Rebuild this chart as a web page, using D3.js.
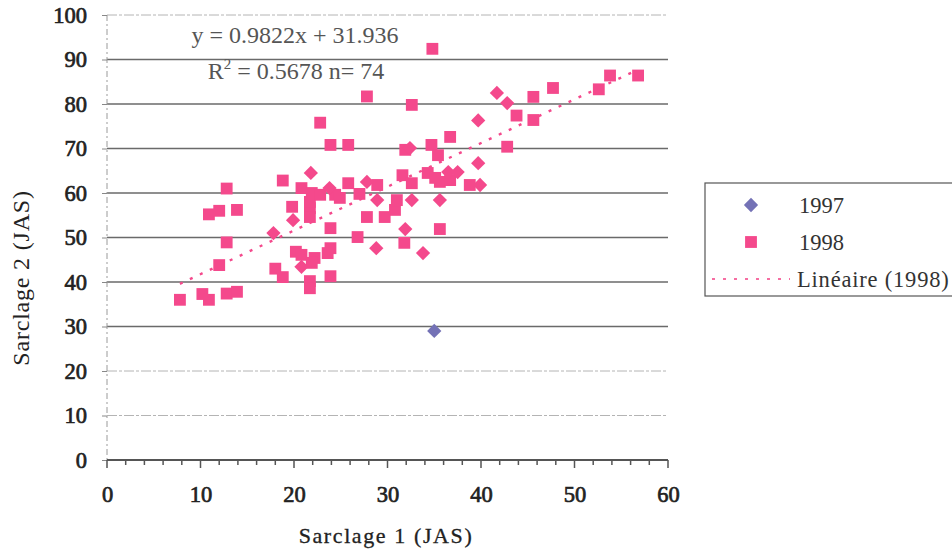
<!DOCTYPE html>
<html>
<head>
<meta charset="utf-8">
<script src="https://cdn.jsdelivr.net/npm/d3@7"></script>
<style>
  html, body { margin: 0; padding: 0; background: #fff; }
  svg { display: block; }
</style>
</head>
<body>
<svg id="chart" width="952" height="553"></svg>
<script>
// Sarclage 1 vs Sarclage 2 (jours après semis)
const xTicks = [0, 10, 20, 30, 40, 50, 60];
const yTicks = [0, 10, 20, 30, 40, 50, 60, 70, 80, 90, 100];

// 1998 : [sarclage 1, sarclage 2]
const s1998 = [
  [7.8, 36.0], [10.2, 37.3], [10.9, 36.0], [12.8, 37.4], [13.9, 37.8],
  [10.9, 55.2], [12.0, 56.0], [13.9, 56.2], [12.8, 61.0], [12.8, 48.9], [12.0, 43.8],
  [18.0, 43.0], [18.8, 41.1], [18.8, 62.8], [19.8, 56.9], [20.8, 61.1], [20.2, 46.8],
  [20.8, 46.1], [22.2, 45.4], [21.9, 44.3], [21.7, 40.2], [21.7, 38.6], [21.7, 56.6],
  [21.7, 54.6], [21.9, 60.0], [21.7, 58.0], [22.8, 59.6], [22.8, 75.8], [23.9, 70.8],
  [23.6, 46.5], [23.9, 47.6], [23.9, 41.3], [23.9, 52.1], [24.4, 59.6], [24.9, 58.9],
  [25.8, 70.8], [25.8, 62.2], [27.0, 59.8], [26.8, 50.1], [27.8, 81.7], [27.8, 54.6],
  [28.9, 61.8], [29.7, 54.6], [30.8, 56.2], [31.0, 58.4], [31.8, 48.8], [31.6, 64.0],
  [32.6, 62.2], [31.9, 69.7], [32.6, 79.8], [34.8, 92.4], [34.7, 70.8], [35.4, 68.5],
  [36.7, 72.6], [34.3, 64.5], [35.1, 63.4], [35.6, 62.5], [35.6, 51.9], [36.7, 62.9],
  [38.8, 61.8], [42.8, 70.4], [43.8, 77.4], [45.6, 76.4], [45.6, 81.6], [47.7, 83.6],
  [52.6, 83.3], [53.8, 86.4], [56.8, 86.4]
];

// 1997 : losanges tracés en rose sur le graphique
const s1997Rose = [
  [17.8, 51.0], [19.9, 53.9], [20.8, 43.4], [21.8, 64.5], [23.8, 61.1], [27.8, 62.5],
  [28.9, 58.4], [28.8, 47.6], [31.9, 51.9], [32.6, 58.4], [32.4, 70.1], [33.8, 46.5],
  [35.6, 58.4], [36.5, 64.7], [37.5, 64.7], [39.9, 61.8], [39.7, 66.7], [39.7, 76.3],
  [41.7, 82.5], [42.8, 80.2]
];
// 1997 : losange resté bleu
const s1997Bleu = [[35.0, 29.0]];

// Régression linéaire sur 1998
const slope = 0.9822, intercept = 31.936;
const eqText = "y = 0.9822x + 31.936";
const r2Value = "0.5678", nValue = "74";

const legendLabels = ["1997", "1998", "Linéaire (1998)"];

const PINK = "#f4498c";
const BLUE = "#7472b6";
const SERIF = "'Liberation Serif', 'DejaVu Serif', serif";

const svg = d3.select("#chart");
const L = 107, R = 668, T = 15, B = 460;

const x = d3.scaleLinear().domain([0, 60]).range([L, R]);
const y = d3.scaleLinear().domain([0, 100]).range([B, T]);

const light = d => d === 10 || d === 20 || d === 100;

// Grille horizontale
svg.append("g").selectAll("line").data(yTicks.filter(d => d > 0)).join("line")
  .attr("x1", L).attr("x2", R)
  .attr("y1", d => y(d)).attr("y2", d => y(d))
  .attr("stroke", d => light(d) ? "#b4b4b4" : "#6a6a6a")
  .attr("stroke-width", d => light(d) ? 1 : 1.6)
  .attr("stroke-dasharray", d => light(d) ? "10,2,3,2" : null);

// Axe vertical (pointillé clair)
svg.append("line")
  .attr("x1", L).attr("x2", L).attr("y1", T).attr("y2", B)
  .attr("stroke", "#9a9a9a").attr("stroke-width", 1).attr("stroke-dasharray", "6,3,2,3");

// Étiquettes en gras simulé (contour fin de même couleur)
function boldText(sel, size) {
  sel.attr("font-family", SERIF).attr("font-size", size).attr("font-weight", "normal")
    .attr("fill", "#222").attr("stroke", "#222").attr("stroke-width", 0.7);
}

// Axe Y : graduations et étiquettes
const yAxis = d3.axisLeft(y).tickValues(yTicks).tickSize(5).tickPadding(15)
  .tickFormat(d3.format("d"));
const gy = svg.append("g").attr("transform", `translate(${L},0)`).call(yAxis);
gy.select(".domain").remove();
gy.selectAll(".tick line").attr("stroke", "#888");
boldText(gy.selectAll("text"), 22.5);

// Axe X : graduations majeures et mineures
const xMinor = d3.range(0, 61, 2);
svg.append("g").selectAll("line").data(xMinor).join("line")
  .attr("x1", d => x(d)).attr("x2", d => x(d))
  .attr("y1", B).attr("y2", d => B + (d % 10 === 0 ? 8 : 5))
  .attr("stroke", "#555").attr("stroke-width", 1.5);
svg.append("line").attr("x1", L).attr("x2", R).attr("y1", B).attr("y2", B)
  .attr("stroke", "#555").attr("stroke-width", 2);
const xAxis = d3.axisBottom(x).tickValues(xTicks).tickSize(0).tickPadding(26)
  .tickFormat(d3.format("d"));
const gx = svg.append("g").attr("transform", `translate(0,${B})`).call(xAxis);
gx.select(".domain").remove();
boldText(gx.selectAll("text"), 22.5);

// Titres des axes
svg.append("text")
  .attr("x", 386).attr("y", 543).attr("text-anchor", "middle")
  .attr("font-family", SERIF).attr("font-size", 22).attr("letter-spacing", 1.6)
  .attr("fill", "#222").attr("stroke", "#222").attr("stroke-width", 0.3)
  .text("Sarclage 1 (JAS)");
svg.append("text")
  .attr("transform", "translate(29,278) rotate(-90)").attr("text-anchor", "middle")
  .attr("font-family", SERIF).attr("font-size", 24).attr("letter-spacing", 0.8)
  .attr("fill", "#222").text("Sarclage 2 (JAS)");

// Droite de tendance (1998)
const xr = d3.extent(s1998, d => d[0]);
svg.append("line")
  .attr("x1", x(xr[0])).attr("y1", y(slope * xr[0] + intercept))
  .attr("x2", x(xr[1])).attr("y2", y(slope * xr[1] + intercept))
  .attr("stroke", PINK).attr("stroke-width", 2.4).attr("stroke-dasharray", "3,8");

// Marqueurs
const diamond = d3.symbol().type(d3.symbolDiamond2).size(130);
const square = d3.symbol().type(d3.symbolSquare).size(140);

svg.append("g").selectAll("path").data(s1998).join("path")
  .attr("d", square)
  .attr("transform", d => `translate(${x(d[0])},${y(d[1])})`)
  .attr("fill", PINK);

svg.append("g").selectAll("path").data(s1997Rose).join("path")
  .attr("d", diamond)
  .attr("transform", d => `translate(${x(d[0])},${y(d[1])})`)
  .attr("fill", PINK);

svg.append("g").selectAll("path").data(s1997Bleu).join("path")
  .attr("d", diamond)
  .attr("transform", d => `translate(${x(d[0])},${y(d[1])})`)
  .attr("fill", BLUE);

// Équation de la régression
svg.append("text")
  .attr("x", 295).attr("y", 43).attr("text-anchor", "middle")
  .attr("font-family", SERIF).attr("font-size", 24).attr("fill", "#555")
  .text(eqText);
const r2 = svg.append("text")
  .attr("x", 296).attr("y", 79).attr("text-anchor", "middle")
  .attr("font-family", SERIF).attr("font-size", 24).attr("fill", "#555");
r2.append("tspan").text("R");
r2.append("tspan").attr("dy", -10).attr("font-size", 15).text("2");
r2.append("tspan").attr("dy", 10).text(` = ${r2Value} n= ${nValue}`);

// Légende
const lg = svg.append("g");
lg.append("rect").attr("x", 705).attr("y", 183).attr("width", 260).attr("height", 113)
  .attr("fill", "#fff").attr("stroke", "#555").attr("stroke-width", 1.2);
lg.append("path").attr("d", diamond).attr("transform", "translate(751,205)").attr("fill", BLUE);
lg.append("path").attr("d", square).attr("transform", "translate(751,242)").attr("fill", PINK);
lg.append("line").attr("x1", 712).attr("x2", 790).attr("y1", 279).attr("y2", 279)
  .attr("stroke", PINK).attr("stroke-width", 2.2).attr("stroke-dasharray", "3,8").attr("opacity", 0.8);
const ly = [213, 250, 287], lx = [799, 799, 797];
lg.selectAll("text").data(legendLabels).join("text")
  .attr("x", (d, i) => lx[i]).attr("y", (d, i) => ly[i])
  .attr("font-family", SERIF).attr("font-size", 22.5)
  .attr("letter-spacing", (d, i) => i === 2 ? 0.8 : 0)
  .attr("fill", "#333")
  .text(d => d);
</script>
</body>
</html>
